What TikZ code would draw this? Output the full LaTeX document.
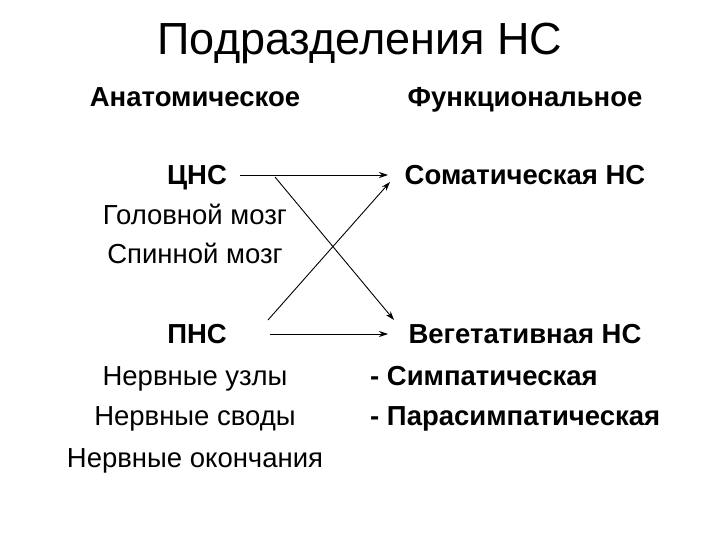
\documentclass[tikz,border=0pt]{standalone}
\usepackage{fontspec}
\setmainfont{Liberation Sans}
\usetikzlibrary{arrows.meta}
\begin{document}
\begin{tikzpicture}[x=1pt,y=-1pt,
  txt/.style={font=\fontsize{27.5}{32}\selectfont, inner sep=0pt, anchor=base},
  bld/.style={txt, font=\fontsize{27.5}{32}\selectfont\bfseries},
  arr/.style={-{Stealth[length=9pt,width=6pt]}, line width=0.9pt}]
\useasboundingbox (0,0) rectangle (720,540);
\node[inner sep=0pt, anchor=base, font=\fontsize{45}{52}\selectfont] (title) at (360,55) {Подразделения НС};
\node[bld] (an) at (195,107) {Анатомическое};
\node[bld] (fn) at (525,107) {Функциональное};
\node[bld] (cns) at (197,185) {ЦНС};
\node[txt] (g1) at (195,225) {Головной мозг};
\node[txt] (g2) at (195,263) {Спинной мозг};
\node[bld] (som) at (525,185) {Соматическая НС};
\node[bld] (pns) at (197,343) {ПНС};
\node[txt] (p1) at (195,385) {Нервные узлы};
\node[txt] (p2) at (195,425) {Нервные своды};
\node[txt] (p3) at (195,467) {Нервные окончания};
\node[bld] (veg) at (525,343) {Вегетативная НС};
\node[bld, anchor=base west] (v1) at (370,385) {- Симпатическая};
\node[bld, anchor=base west] (v2) at (370,425) {- Парасимпатическая};
\coordinate (a1s) at (240,175); \coordinate (a1e) at (388,175);
\coordinate (a2s) at (270,334); \coordinate (a2e) at (388,334);
\coordinate (c1s) at (275,177); \coordinate (c1e) at (394,320);
\coordinate (c2s) at (268,320); \coordinate (c2e) at (390,182);
\draw[arr] (a1s) -- (a1e);
\draw[arr] (a2s) -- (a2e);
\draw[arr] (c1s) -- (c1e);
\draw[arr] (c2s) -- (c2e);
\end{tikzpicture}
\end{document}
